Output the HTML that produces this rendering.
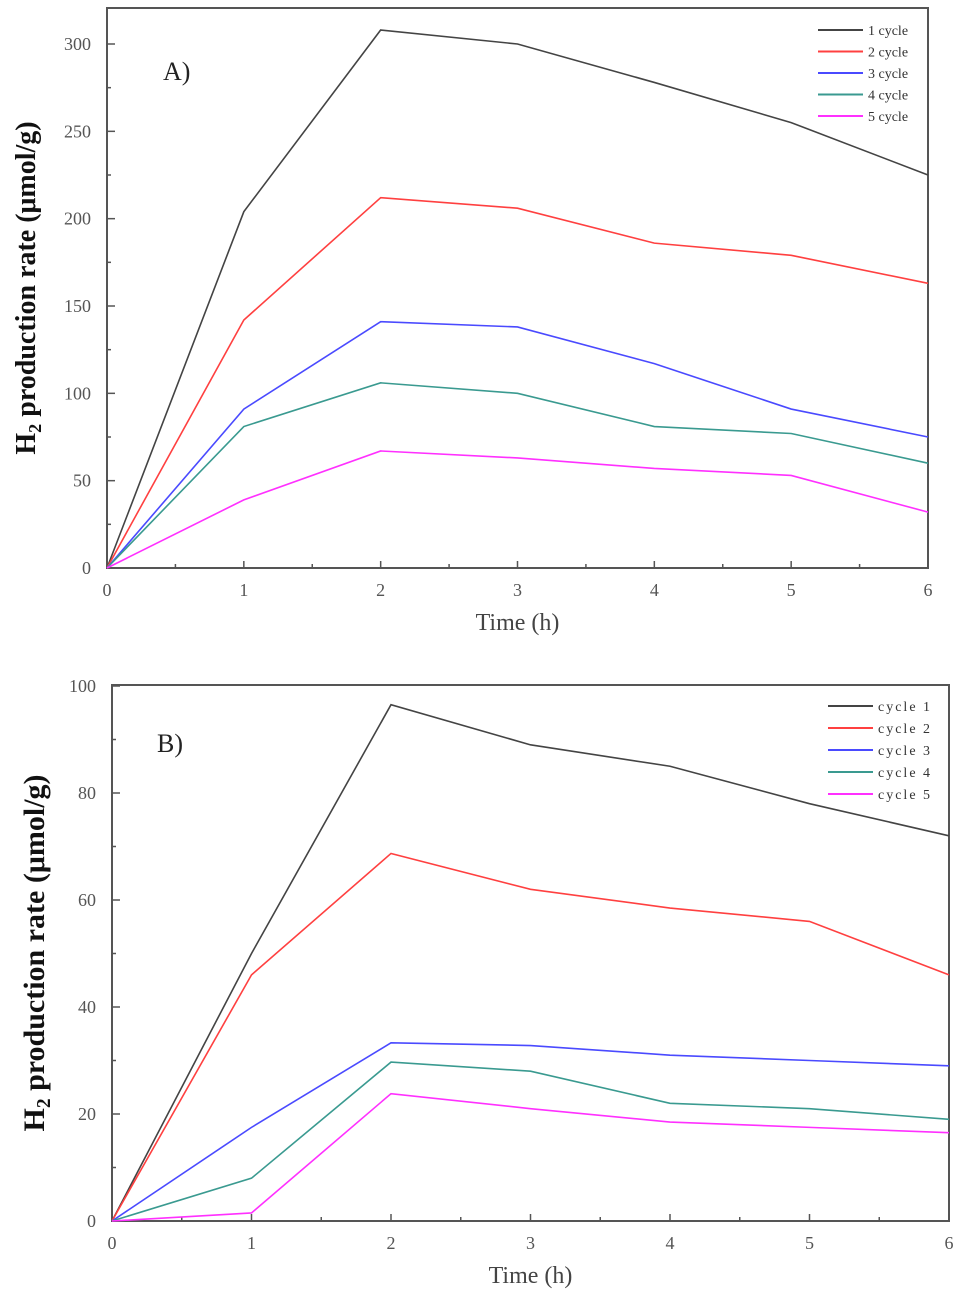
<!DOCTYPE html>
<html><head><meta charset="utf-8"><style>
html,body{margin:0;padding:0;background:#fff;width:957px;height:1297px;overflow:hidden}
svg text{font-family:"Liberation Serif",serif}
</style></head><body>
<svg id="s" width="957" height="1297" xmlns="http://www.w3.org/2000/svg"></svg>
<script>
const timesA=[0,1,2,3,4,5,6];
const a1=[0,204,308,300,278,255,225];
const a2=[0,142,212,206,186,179,163];
const a3=[0,91,141,138,117,91,75];
const a4=[0,81,106,100,81,77,60];
const a5=[0,39,67,63,57,53,32];
const yTicksA=[0,50,100,150,200,250,300];
const b1=[0,50,96.5,89,85,78,72];
const b2=[0,46,68.7,62,58.5,56,46];
const b3=[0,17.5,33.3,32.8,31,30,29];
const b4=[0,8,29.7,28,22,21,19];
const b5=[0,1.5,23.8,21,18.5,17.5,16.5];
const yTicksB=[0,20,40,60,80,100];
const xTicks=[0,1,2,3,4,5,6];
const colors=['#444','#ff4040','#4a4aff','#3a9a90','#ff30ff'];
const legA=['1 cycle','2 cycle','3 cycle','4 cycle','5 cycle'];
const legB=['cycle 1','cycle 2','cycle 3','cycle 4','cycle 5'];
const NS='http://www.w3.org/2000/svg';
const svg=document.getElementById('s');
function mk(t,at,p){const e=document.createElementNS(NS,t);for(const k in at)e.setAttribute(k,at[k]);(p||svg).appendChild(e);return e;}
function chart(cfg){
  const g=mk('g',{});
  
  
  const X=v=>cfg.x0+(cfg.x1-cfg.x0)*v/6;
  const Y=v=>cfg.y0+(cfg.y1-cfg.y0)*v/cfg.ymax;
  const box=mk('rect',{x:cfg.x0,y:cfg.top,width:cfg.x1-cfg.x0,height:cfg.y0-cfg.top,fill:'none',stroke:'#555','stroke-width':2},g);
  
  
  xTicks.forEach(t=>{
    mk('line',{x1:X(t),x2:X(t),y1:cfg.y0,y2:cfg.y0-7,stroke:'#555','stroke-width':1.5},g);
    if(t<6)mk('line',{x1:X(t+0.5),x2:X(t+0.5),y1:cfg.y0,y2:cfg.y0-4,stroke:'#555','stroke-width':1.5},g);
    const tx=mk('text',{x:X(t),y:cfg.y0+28,'text-anchor':'middle','font-size':18,fill:'#555'},g);
    tx.textContent=t;
    
    
  });
  cfg.yt.forEach((t,i)=>{
    mk('line',{x1:cfg.x0,x2:cfg.x0+8,y1:Y(t),y2:Y(t),stroke:'#555','stroke-width':1.5},g);
    if(i<cfg.yt.length-1){const m=(t+cfg.yt[i+1])/2;mk('line',{x1:cfg.x0,x2:cfg.x0+4,y1:Y(m),y2:Y(m),stroke:'#555','stroke-width':1.5},g);}
    const tx=mk('text',{x:cfg.x0-16,y:Y(t)+6,'text-anchor':'end','font-size':18,fill:'#555'},g);
    tx.textContent=t;
    
    
  });
  cfg.series.forEach((s,i)=>{
    const pl=mk('polyline',{points:s.map((v,j)=>X(timesA[j])+','+Y(v)).join(' '),fill:'none',stroke:colors[i],'stroke-width':1.6},g);
    
    
    const ly=cfg.legY+i*cfg.legDy;
    mk('line',{x1:cfg.legX,x2:cfg.legX+45,y1:ly,y2:ly,stroke:colors[i],'stroke-width':2},g);
    const lt=mk('text',{x:cfg.legX+50,y:ly+5,'font-size':14,fill:'#333','letter-spacing':cfg.ls},g);
    lt.textContent=cfg.leg[i];
    
    
  });
  const pt=mk('text',{x:cfg.px,y:cfg.py,'font-size':26,fill:'#222'},g);
  pt.textContent=cfg.label;
  
  
  const xt=mk('text',{x:(cfg.x0+cfg.x1)/2,y:cfg.y0+62,'text-anchor':'middle','font-size':24,fill:'#444'},g);
  xt.textContent='Time (h)';
  
  
  const cy=(cfg.top+cfg.y0)/2;
  const yt=mk('text',{x:0,y:0,'text-anchor':'middle','font-size':cfg.yfs,'font-weight':'bold',fill:'#111',transform:'translate('+cfg.ytx+','+cy+') rotate(-90)'},g);
  yt.innerHTML='H<tspan font-size="'+(cfg.yfs*0.65)+'" dy="6">2</tspan><tspan dy="-6"> production rate (μmol/g)</tspan>';
  
  
}
chart({name:'chart-a',x0:107,x1:928,top:8,y0:568,y1:44,ymax:300,yt:yTicksA,series:[a1,a2,a3,a4,a5],leg:legA,legX:818,legY:30,legDy:21.5,ls:0,label:'A)',px:163,py:80,ytx:35,yfs:28});
chart({name:'chart-b',x0:112,x1:949,top:685,y0:1221,y1:686,ymax:100,yt:yTicksB,series:[b1,b2,b3,b4,b5],leg:legB,legX:828,legY:706,legDy:22,ls:2,label:'B)',px:157,py:752,ytx:44,yfs:30});
</script>
</body></html>
